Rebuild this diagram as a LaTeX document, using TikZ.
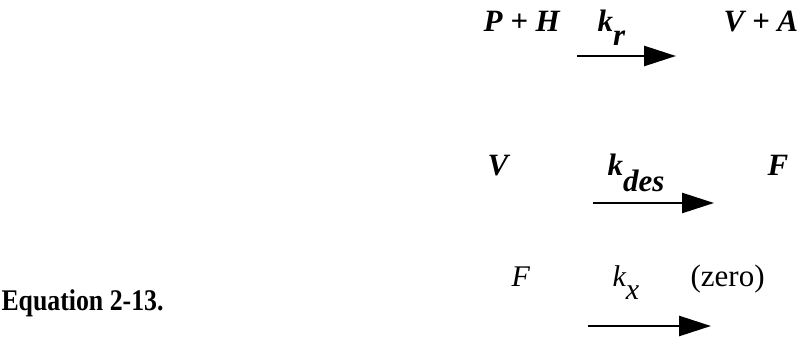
\documentclass[tikz,border=0pt]{standalone}
\usepackage{fontspec}
\setmainfont{Liberation Serif}
\usetikzlibrary{arrows.meta}
\definecolor{cink}{HTML}{000000}
\newcommand{\lowsub}[2][0.42em]{\raisebox{-#1}{#2}}
\tikzset{
  every picture/.style={x=1pt, y=1pt, line width=1.2pt},
  species/.style={font=\fontsize{31}{36}\selectfont\bfseries\itshape, text=cink, inner sep=0pt, anchor=base west},
  plain/.style={font=\fontsize{30}{34}\selectfont\itshape, text=cink, inner sep=0pt, anchor=base west},
  rxn/.style={-{Triangle[length=32pt, width=20pt]}, draw=cink, line width=2.6pt},
  caption/.style={font=\fontsize{30}{34}\selectfont\bfseries, text=cink, inner sep=0pt, anchor=base west, xscale=0.86},
}
\begin{document}
\begin{tikzpicture}
  \useasboundingbox (0,0) rectangle (800,-342);
  % first step
  \node[species] (PH) at (483,-32) {P + H};
  \node[species] (kr) at (597,-32) {k\lowsub[0.45em]{r}};
  \node[species] (VA) at (723,-32) {V + A};
  % second step
  \node[species] (V) at (487,-175) {V};
  \node[species] (kdes) at (607,-175) {k\lowsub[0.52em]{des}};
  \node[species] (F) at (767,-175) {F};
  % third step
  \node[plain] (Fx) at (511,-286) {F};
  \node[plain] (kx) at (612,-286) {k\lowsub[0.45em]{x}};
  \node[plain, font=\fontsize{31}{34}\selectfont] (zero) at (690,-286) {(zero)};
  \node[caption] (eqn) at (1,-310) {Equation 2-13.};
  \foreach \id/\y/\xa/\xb in {r/56/577/676, des/203/593/714, x/326/588/711} {
    \coordinate (\id s) at (\xa,-\y);
    \coordinate (\id e) at (\xb,-\y);
    \draw[rxn] (\id s) -- (\id e);
  }
\end{tikzpicture}
\end{document}
